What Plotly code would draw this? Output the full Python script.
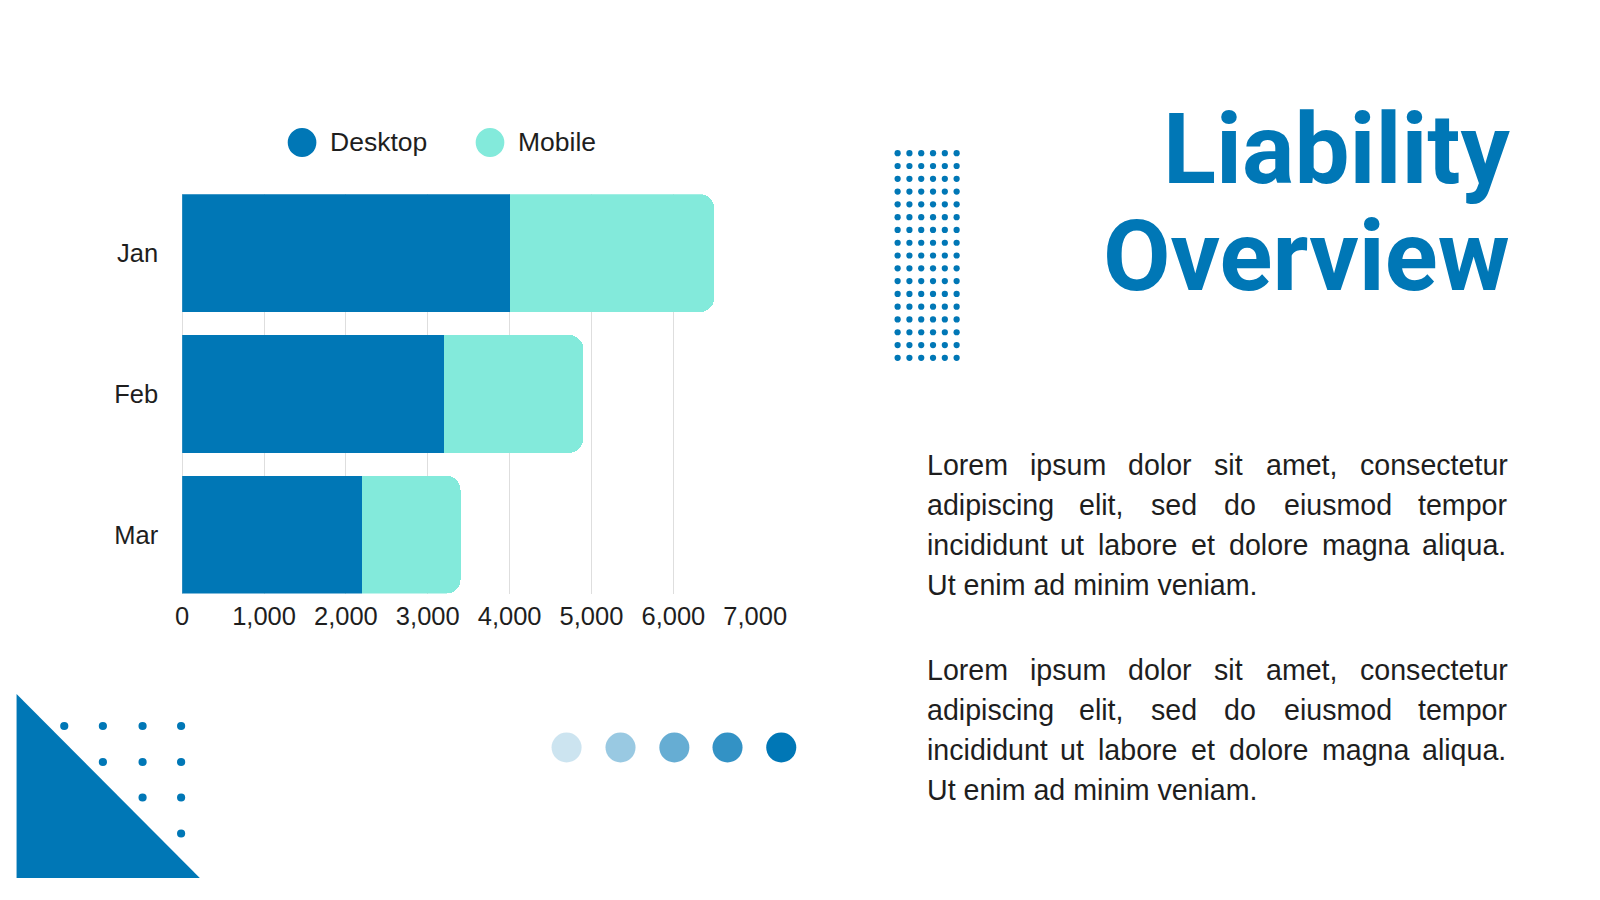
import plotly.graph_objects as go

# ---------------- data ----------------
months = ["Jan", "Feb", "Mar"]
desktop = [4000, 3200, 2200]
mobile = [2500, 1700, 1200]
series_names = ["Desktop", "Mobile"]
x_tick_values = [0, 1000, 2000, 3000, 4000, 5000, 6000, 7000]
x_tick_labels = ["0", "1,000", "2,000", "3,000", "4,000", "5,000", "6,000", "7,000"]

title_lines = ["Liability", "Overview"]
paragraph_lines = [
    "Lorem ipsum dolor sit amet, consectetur",
    "adipiscing elit, sed do eiusmod tempor",
    "incididunt ut labore et dolore magna aliqua.",
    "Ut enim ad minim veniam.",
]
paragraphs = [paragraph_lines, paragraph_lines]

# ---------------- style ----------------
OFF = 8                      # default page body margin of the viewer
W, H = 1600 - 2 * OFF, 900 - 2 * OFF
BLUE = "#0077b6"
AQUA = "#83eadb"
TEXT = "#1e1e1e"
GRID = "#dedede"
SANS = "Liberation Sans, Arial, sans-serif"

def px(x):
    return (x - OFF) / W

def py(y):
    return 1 - (y - OFF) / H

# plot area in page pixels
PL, PR, PT, PB = 179.4, 766.9, 194.3, 593.5

fig = go.Figure()
fig.add_trace(go.Bar(y=months, x=desktop, name=series_names[0], orientation="h",
                     marker=dict(color=BLUE, line=dict(width=0))))
fig.add_trace(go.Bar(y=months, x=mobile, name=series_names[1], orientation="h",
                     marker=dict(color=AQUA, line=dict(width=0))))

gap = 0.164
fig.update_layout(
    width=W, height=H, autosize=False,
    margin=dict(l=0, r=0, t=0, b=0),
    paper_bgcolor="white", plot_bgcolor="white",
    barmode="stack", bargap=gap, barcornerradius=14,
    showlegend=False,
    xaxis=dict(domain=[px(PL), px(PR)], range=[0, 7000], tickvals=x_tick_values,
               ticktext=x_tick_labels, showgrid=True, gridcolor=GRID, gridwidth=1,
               zeroline=True, zerolinecolor=GRID, zerolinewidth=1, showline=False,
               ticks="", ticklabelstandoff=5,
               tickfont=dict(family=SANS, size=25.5, color=TEXT), fixedrange=True),
    yaxis=dict(domain=[py(PB), py(PT)], categoryorder="array", categoryarray=months,
               range=[2.5 - gap / 2, -0.5 + gap / 2], showgrid=False, zeroline=False,
               showline=False, ticks="", ticklabelstandoff=23,
               tickfont=dict(family=SANS, size=25.5, color=TEXT), fixedrange=True),
)

shapes = []
annotations = []

# legend (drawn by hand to get the large round swatches)
legend_items = [(series_names[0], BLUE, 302.3, 330.4), (series_names[1], AQUA, 495.0, 523.1)]
for name, col, cx, tx in legend_items:
    r = 14.7
    shapes.append(dict(type="circle", xref="paper", yref="paper",
                       x0=px(cx - r), x1=px(cx + r), y0=py(142.5 + 14.5), y1=py(142.5 - 14.5),
                       fillcolor=col, line=dict(width=0)))
    annotations.append(dict(text=name, xref="paper", yref="paper", x=px(tx), y=py(151 - 0.3465 * 26),
                            xanchor="left", yanchor="middle", showarrow=False, borderpad=0,
                            font=dict(family=SANS, size=26.5, color=TEXT)))

# title
TFS = 98
title_font = dict(family="Roboto", size=TFS, color=BLUE, weight=700)
for line, base in zip(title_lines, [183.0, 290.0]):
    annotations.append(dict(text=line, xref="paper", yref="paper", x=px(1541.8), y=py(base - 0.342 * TFS),
                            xanchor="right", yanchor="middle", showarrow=False, borderpad=0,
                            font=title_font))

# justified body text (Arial / Liberation Sans metrics, per 1000 em)
AW = {
    "a": 556, "b": 556, "c": 500, "d": 556, "e": 556, "f": 278, "g": 556, "h": 556, "i": 222,
    "j": 222, "k": 500, "l": 222, "m": 833, "n": 556, "o": 556, "p": 556, "q": 556, "r": 333,
    "s": 500, "t": 278, "u": 556, "v": 500, "w": 722, "x": 500, "y": 500, "z": 500,
    "L": 556, "U": 722, ",": 278, ".": 278, " ": 278,
}
FS = 28.6
LEFT, RIGHT = 941.5, 1534.0

def word_width(w):
    return sum(AW.get(c, 556) for c in w) / 1000 * FS

body_font = dict(family=SANS, size=FS, color=TEXT)
para_bases = [[475, 515, 555, 595], [680, 720, 760, 800]]
for lines, bases in zip(paragraphs, para_bases):
    for i, (line, base) in enumerate(zip(lines, bases)):
        yy = py(base - 0.3465 * 28)
        if i == len(lines) - 1:
            annotations.append(dict(text=line, xref="paper", yref="paper", x=px(LEFT), y=yy,
                                    xanchor="left", yanchor="middle", showarrow=False,
                                    borderpad=0, font=body_font))
            continue
        words = line.split(" ")
        widths = [word_width(w) for w in words]
        g = (RIGHT - LEFT - sum(widths)) / (len(words) - 1)
        xcur = LEFT
        for w, wd in zip(words, widths):
            annotations.append(dict(text=w, xref="paper", yref="paper", x=px(xcur), y=yy,
                                    xanchor="left", yanchor="middle", showarrow=False,
                                    borderpad=0, font=body_font))
            xcur += wd + g

# dot grid top-right (6 x 17)
for ci in range(6):
    for ri in range(17):
        cx = 912.9 + ci * 12.1
        cy = 153.2 + ri * 12.79
        shapes.append(dict(type="circle", xref="paper", yref="paper",
                           x0=px(cx - 3.2), x1=px(cx + 3.2), y0=py(cy + 3.1), y1=py(cy - 3.1),
                           fillcolor=BLUE, line=dict(width=0)))

# bottom-left triangle
shapes.append(dict(type="path", xref="paper", yref="paper",
                   path=f"M {px(9.6)},{py(694)} L {px(9.6)},{py(878)} L {px(197.5)},{py(878)} Z",
                   fillcolor=BLUE, line=dict(width=0)))

# small dots near triangle
dot_cols = [58.5, 98.1, 138.8, 178.3]
dot_rows = [726, 762, 797.5, 833.5]
for ri, cy in enumerate(dot_rows):
    for ci in range(ri, 4):
        cx = dot_cols[ci]
        shapes.append(dict(type="circle", xref="paper", yref="paper",
                           x0=px(cx - 4.2), x1=px(cx + 4.2), y0=py(cy + 4.1), y1=py(cy - 4.1),
                           fillcolor=BLUE, line=dict(width=0)))

# five fading circles
fade_x = [573.5, 628.8, 684.0, 738.5, 793.6]
fade_alpha = [0.2, 0.4, 0.6, 0.8, 1.0]
for cx, a in zip(fade_x, fade_alpha):
    shapes.append(dict(type="circle", xref="paper", yref="paper",
                       x0=px(cx - 15.4), x1=px(cx + 15.4), y0=py(747.5 + 15), y1=py(747.5 - 15),
                       fillcolor=BLUE, opacity=a, line=dict(width=0)))

fig.update_layout(shapes=shapes, annotations=annotations)
fig.write_html("out.html", config={"displayModeBar": False})
